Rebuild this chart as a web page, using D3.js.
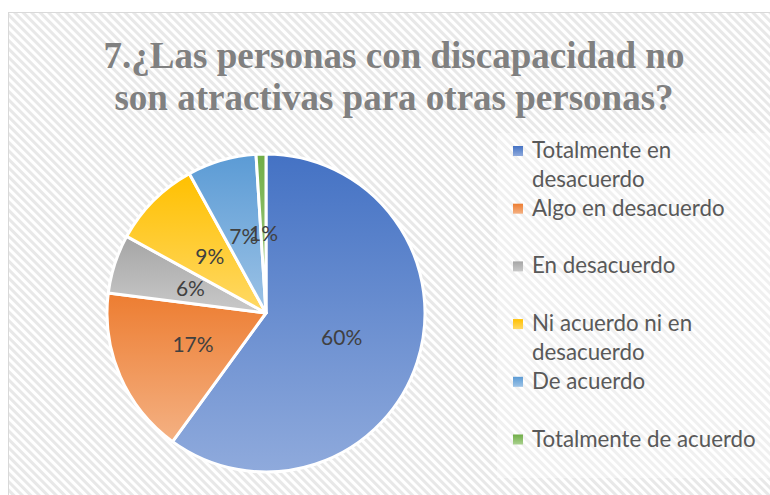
<!DOCTYPE html>
<html>
<head>
<meta charset="utf-8">
<script src="https://cdn.jsdelivr.net/npm/d3@7"></script>
<style>
  body { margin: 0; background: #fff; }
  svg { display: block; }
</style>
</head>
<body>
<div id="chart"></div>
<script>
const titleLines = ['7.¿Las personas con discapacidad no', 'son atractivas para otras personas?'];
const categories = ['Totalmente en desacuerdo', 'Algo en desacuerdo', 'En desacuerdo',
    'Ni acuerdo ni en desacuerdo', 'De acuerdo', 'Totalmente de acuerdo'];
const values = [60, 17, 6, 9, 7, 1];
const colorsTop = ['#4472c4', '#ed7d31', '#a5a5a5', '#ffc000', '#5b9bd5', '#70ad47'];
const colorsBottom = ['#8faadc', '#f4b183', '#c9c9c9', '#ffd966', '#9dc3e6', '#a9d18e'];

const width = 770, height = 495;
const svg = d3.select('#chart').append('svg')
    .attr('width', width)
    .attr('height', height);

const defs = svg.append('defs');
const hatch = defs.append('pattern')
    .attr('id', 'hatch')
    .attr('patternUnits', 'userSpaceOnUse')
    .attr('width', 6).attr('height', 6)
    .attr('patternTransform', 'rotate(-45)');
hatch.append('rect').attr('width', 6).attr('height', 6).attr('fill', '#fff');
hatch.append('rect').attr('width', 3).attr('height', 6).attr('fill', '#e8e8e8');

categories.forEach((c, i) => {
    const g = defs.append('linearGradient')
        .attr('id', 'grad' + i)
        .attr('x1', 0).attr('y1', 0).attr('x2', 0).attr('y2', 1);
    g.append('stop').attr('offset', '0%').attr('stop-color', colorsTop[i]);
    g.append('stop').attr('offset', '100%').attr('stop-color', colorsBottom[i]);
});

// chart area
svg.append('rect')
    .attr('x', 8.5).attr('y', 12.5)
    .attr('width', width).attr('height', height)
    .attr('fill', 'url(#hatch)')
    .attr('stroke', '#d9d9d9');

// title
svg.append('g').selectAll('text')
    .data(titleLines)
    .join('text')
    .attr('x', 394)
    .attr('y', (d, i) => 68 + i * 42)
    .attr('text-anchor', 'middle')
    .style('font-family', '"Liberation Serif", "Times New Roman", serif')
    .style('font-weight', 'bold')
    .style('font-size', '37px')
    .style('fill', '#808080')
    .text(d => d);

// pie
const cx = 266, cy = 313, radius = 159;
const pie = d3.pie().sort(null).value(d => d);
const arc = d3.arc().innerRadius(0).outerRadius(radius);
const labelArc = d3.arc().innerRadius(radius * 0.5).outerRadius(radius * 0.5);
const arcs = pie(values);

const pieG = svg.append('g').attr('transform', `translate(${cx},${cy})`);
pieG.selectAll('path')
    .data(arcs)
    .join('path')
    .attr('d', arc)
    .attr('fill', (d, i) => `url(#grad${i})`)
    .attr('stroke', '#fff')
    .attr('stroke-width', 3)
    .attr('stroke-linejoin', 'round');

pieG.selectAll('text')
    .data(arcs)
    .join('text')
    .attr('transform', d => `translate(${labelArc.centroid(d)})`)
    .attr('text-anchor', 'middle')
    .attr('dy', '0.35em')
    .style('font-family', 'Lato, "Open Sans", sans-serif')
    .style('font-size', '21px')
    .style('fill', '#404040')
    .text(d => d.data + '%');

// legend
const legend = svg.append('g');
legend.append('rect')
    .attr('x', 497).attr('y', 133)
    .attr('width', 273).attr('height', 345)
    .attr('fill', '#fff').attr('opacity', 0.35);

const legendY = d3.scaleLinear().domain([0, 1]).range([146, 203.7]);
const lineH = 29;
const maxW = 236;

const items = legend.selectAll('g.item')
    .data(categories)
    .join('g')
    .attr('class', 'item')
    .attr('transform', (d, i) => `translate(513,${legendY(i)})`);

items.append('rect')
    .attr('width', 10).attr('height', 10)
    .attr('fill', (d, i) => `url(#grad${i})`);

items.append('text')
    .attr('x', 19)
    .attr('y', 12)
    .style('font-family', 'Lato, "Open Sans", sans-serif')
    .style('font-size', '22.3px')
    .style('fill', '#595959')
    .each(function (d) {
        const t = d3.select(this);
        const words = d.split(' ');
        let line = [];
        let tspan = t.append('tspan').attr('x', 19).attr('dy', 0);
        words.forEach(w => {
            line.push(w);
            tspan.text(line.join(' '));
            if (tspan.node().getComputedTextLength() > maxW && line.length > 1) {
                line.pop();
                tspan.text(line.join(' '));
                line = [w];
                tspan = t.append('tspan').attr('x', 19).attr('dy', lineH).text(w);
            }
        });
    });
</script>
</body>
</html>
